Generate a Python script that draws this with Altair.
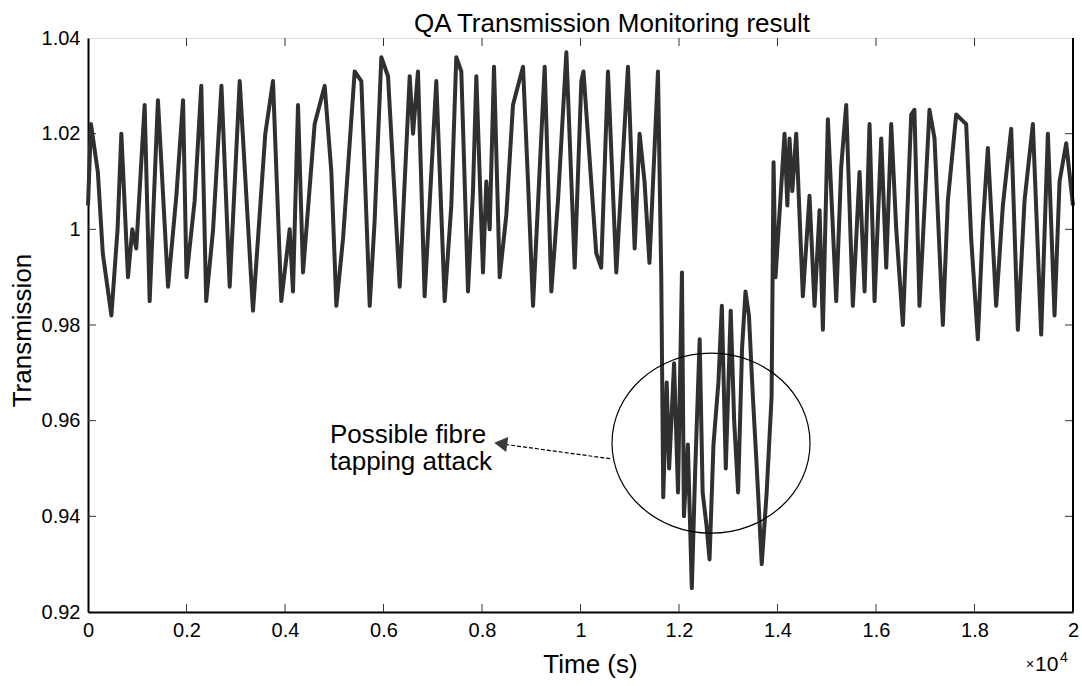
import altair as alt
import pandas as pd

# ---------------- data ----------------
# normal operation (time in s, transmission)
normal_t = [0, 60, 200, 300, 475, 600, 677, 812, 900, 980, 1150, 1252, 1420, 1625, 1794, 1930,
            2000, 2166, 2300, 2400, 2540, 2710, 2877, 3080, 3350, 3600, 3756, 3925, 4095, 4162,
            4264, 4366, 4602, 4806, 4941, 5043, 5178, 5415, 5550, 5720, 5821, 5956, 6092, 6329,
            6532, 6600, 6700, 6835, 7072, 7242, 7377, 7478, 7580, 7716, 7817, 7885, 8020, 8088,
            8156, 8244, 8359, 8494, 8629, 8731, 8833, 8934, 9036, 9273, 9408, 9543, 9713, 9882,
            10017, 10060, 10320, 10420, 10558, 10727, 10964, 11100, 11200, 11300, 11400, 11573]
normal_v = [1.005, 1.022, 1.012, 0.995, 0.982, 1.000, 1.020, 0.990, 1.000, 0.996, 1.026, 0.985,
            1.027, 0.988, 1.007, 1.027, 0.990, 1.006, 1.030, 0.985, 1.000, 1.030, 0.988, 1.031,
            0.983, 1.020, 1.031, 0.985, 1.000, 0.987, 1.026, 0.991, 1.022, 1.030, 1.012, 0.984,
            0.998, 1.033, 1.031, 0.984, 1.002, 1.036, 1.032, 0.988, 1.032, 1.020, 1.033, 0.986,
            1.031, 0.985, 1.005, 1.036, 1.033, 0.987, 1.008, 1.032, 0.991, 1.010, 1.000, 1.034,
            0.990, 1.003, 1.026, 1.030, 1.034, 1.010, 0.984, 1.034, 0.987, 1.006, 1.037, 0.992,
            1.031, 1.033, 0.995, 0.992, 1.033, 0.991, 1.034, 0.996, 1.020, 1.010, 0.993, 1.033]

# possible tapping attack
attack_t = [11640, 11680, 11750, 11800, 11900, 11980, 12060, 12100, 12180, 12260, 12330, 12420,
            12480, 12560, 12620, 12700, 12800, 12870, 12950, 13050, 13120, 13200, 13280, 13350,
            13420, 13500, 13580, 13680, 13780, 13880]
attack_v = [0.990, 0.944, 0.968, 0.950, 0.972, 0.945, 0.991, 0.940, 0.955, 0.925, 0.950, 0.977,
            0.945, 0.938, 0.931, 0.955, 0.968, 0.984, 0.950, 0.983, 0.960, 0.945, 0.975, 0.987,
            0.982, 0.965, 0.950, 0.930, 0.945, 0.965]

# after the attack
after_t = [13920, 13960, 14143, 14200, 14244, 14300, 14380, 14515, 14650, 14752, 14854, 14921,
           15023, 15192, 15293, 15395, 15530, 15666, 15768, 15869, 15971, 16106, 16208, 16309,
           16411, 16546, 16715, 16780, 16883, 17086, 17188, 17357, 17459, 17628, 17831, 17933,
           18068, 18170, 18271, 18440, 18576, 18745, 18880, 19016, 19185, 19354, 19490, 19625,
           19727, 19862, 20000]
after_v = [1.014, 0.990, 1.020, 1.005, 1.019, 1.008, 1.020, 0.986, 1.007, 0.984, 1.004, 0.979,
           1.023, 0.985, 1.013, 1.026, 0.984, 1.012, 0.987, 1.022, 0.985, 1.019, 0.992, 1.022,
           1.000, 0.980, 1.024, 1.025, 0.984, 1.025, 1.019, 0.980, 1.006, 1.024, 1.022, 0.998,
           0.977, 1.001, 1.017, 0.984, 1.005, 1.021, 0.979, 1.006, 1.022, 0.978, 1.020, 0.982,
           1.010, 1.018, 1.005]

x_ticks = [0, 2000, 4000, 6000, 8000, 10000, 12000, 14000, 16000, 18000, 20000]
y_ticks = [0.92, 0.94, 0.96, 0.98, 1.0, 1.02, 1.04]

title_text = "QA Transmission Monitoring result"
x_title = "Time (s)"
y_title = "Transmission"
annotation_text = "Possible fibre\ntapping attack"
exponent_parts = ["×", "10", "4"]

# ---------------- layout / style ----------------
W, H = 985, 574
FONT = "Liberation Sans, Arial, Helvetica, sans-serif"

df = pd.DataFrame({"t": normal_t + attack_t + after_t,
                   "v": normal_v + attack_v + after_v})
df["order"] = range(len(df))

xs = alt.Scale(domain=[0, 20000], nice=False, zero=False)
ys = alt.Scale(domain=[0.92, 1.04], nice=False, zero=False)

xaxis = alt.Axis(values=x_ticks, labelExpr="format(datum.value / 10000, '~g')",
                 ticks=False, tickSize=0, grid=False, domainColor="black", domainWidth=2,
                 labelFont=FONT, labelFontSize=20, labelColor="black", labelPadding=8,
                 labelFlush=False, labelOverlap=False,
                 title=x_title, titleFont=FONT, titleFontSize=26, titleFontWeight="normal",
                 titleColor="black", titleX=502, titleY=60, titleBaseline="alphabetic",
                 titleAlign="center")
yaxis = alt.Axis(values=y_ticks, labelExpr="format(datum.value, '~g')",
                 ticks=False, tickSize=0, grid=False, domainColor="black", domainWidth=2,
                 labelFont=FONT, labelFontSize=20, labelColor="black", labelPadding=8,
                 labelFlush=False, labelOverlap=False,
                 title=y_title, titleFont=FONT, titleFontSize=26, titleFontWeight="normal",
                 titleColor="black", titleX=-58, titleY=292, titleBaseline="alphabetic",
                 titleAlign="center", titleAngle=270)

X = alt.X("t:Q", scale=xs, axis=xaxis)
Y = alt.Y("v:Q", scale=ys, axis=yaxis)

line = alt.Chart(df).mark_line(color="#303030", strokeWidth=4, strokeJoin="round").encode(
    x=X, y=Y, order="order:Q")

tx = pd.DataFrame({"t": x_ticks[1:-1]})
ty = pd.DataFrame({"v": y_ticks[1:-1]})
tick_style = dict(color="#333", strokeWidth=1)
tick_bottom = alt.Chart(tx).mark_rule(**tick_style).encode(x=X, y=alt.value(H), y2=alt.value(H - 8))
tick_top = alt.Chart(tx).mark_rule(**tick_style).encode(x=X, y=alt.value(0), y2=alt.value(8))
tick_left = alt.Chart(ty).mark_rule(**tick_style).encode(y=Y, x=alt.value(0), x2=alt.value(8))
tick_right = alt.Chart(ty).mark_rule(**tick_style).encode(y=Y, x=alt.value(W), x2=alt.value(W - 8))

frame_right = alt.Chart(pd.DataFrame({"k": [0]})).mark_rule(color="black", strokeWidth=2).encode(
    x=alt.value(W), y=alt.value(0), y2=alt.value(H))

# annotation: ellipse, arrow and text
ell_df = pd.DataFrame({"t": [12650], "v": [0.9553]})
ellipse = alt.Chart(ell_df).mark_point(
    shape="M -1 0 A 1 0.909 0 1 0 1 0 A 1 0.909 0 1 0 -1 0 Z",
    size=39204, filled=False, stroke="black", strokeWidth=1.2, opacity=1).encode(x=X, y=Y)

arr_df = pd.DataFrame({"t": [8350], "v": [0.9552], "t2": [10640], "v2": [0.9520]})
arrow = alt.Chart(arr_df).mark_rule(color="black", strokeWidth=1.2, strokeDash=[4, 2]).encode(
    x=X, y=Y, x2="t2:Q", y2="v2:Q")
head_df = pd.DataFrame({"t": [8380], "v": [0.9552]})
head = alt.Chart(head_df).mark_point(shape="triangle-left", filled=True, size=230, angle=8,
                                     color="#3a3a3a", opacity=1).encode(x=X, y=Y)

txt_df = pd.DataFrame({"t": [4914], "v": [0.9553], "label": [annotation_text]})
label = alt.Chart(txt_df).mark_text(align="left", baseline="alphabetic", font=FONT, fontSize=26,
                                    lineBreak="\n", lineHeight=27, color="black").encode(
    x=X, y=Y, text="label:N")

title = alt.Chart(pd.DataFrame({"label": [title_text]})).mark_text(
    align="center", baseline="alphabetic", font=FONT, fontSize=26, color="black").encode(
    x=alt.value(524), y=alt.value(-6), text="label:N")

expo_times = alt.Chart(pd.DataFrame({"label": [exponent_parts[0]]})).mark_text(
    align="left", baseline="alphabetic", font=FONT, fontSize=14, color="black").encode(
    x=alt.value(938), y=alt.value(631), text="label:N")
expo_ten = alt.Chart(pd.DataFrame({"label": [exponent_parts[1]]})).mark_text(
    align="left", baseline="alphabetic", font=FONT, fontSize=21, color="black").encode(
    x=alt.value(947), y=alt.value(633), text="label:N")
expo_pow = alt.Chart(pd.DataFrame({"label": [exponent_parts[2]]})).mark_text(
    align="left", baseline="alphabetic", font=FONT, fontSize=14, color="black").encode(
    x=alt.value(972), y=alt.value(624), text="label:N")

chart = alt.layer(line, tick_bottom, tick_top, tick_left, tick_right, frame_right,
                  ellipse, arrow, head, label, title, expo_times, expo_ten, expo_pow).properties(
    width=W, height=H,
    autosize=alt.AutoSizeParams(type="none"),
    padding={"left": 88, "top": 38, "right": 9, "bottom": 74},
).configure_view(stroke="#777", strokeWidth=1).configure(background="white")

chart.save("out.html", embed_options={"renderer": "svg", "actions": False})
